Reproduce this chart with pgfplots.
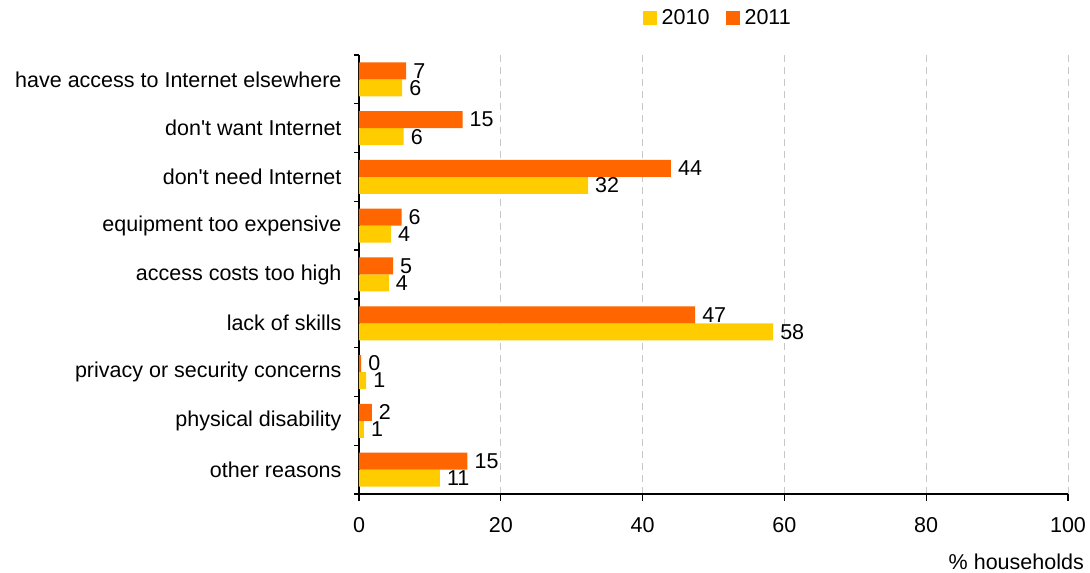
\documentclass[border=0pt]{standalone}
\usepackage{pgfplots}
\pgfplotsset{compat=1.18}
\usepackage{fontspec}
\setmainfont{Liberation Sans}
\definecolor{cyellow}{HTML}{FFCC00}
\definecolor{corange}{HTML}{FF6600}
\begin{document}
\begin{tikzpicture}[font=\fontsize{21.5}{25}\selectfont]
\useasboundingbox (-359pt,-79pt) rectangle (731pt,494pt);
\begin{axis}[
  at={(0pt,0pt)}, anchor=south west,
  scale only axis,
  width=709pt, height=439pt,
  xbar, bar width=17pt,
  xmin=0, xmax=100,
  ymin=-0.5, ymax=8.5,
  axis lines*=left,
  axis line style={line width=1.3pt},
  xtick={0,20,...,100},
  ytick={0,...,8},
  yticklabels={other reasons,physical disability,privacy or security concerns,lack of skills,access costs too high,equipment too expensive,don\textquotesingle t need Internet,don\textquotesingle t want Internet,have access to Internet elsewhere},
  minor ytick={-0.5,0.5,...,8.5},
  major y tick style={draw=none},
  tick align=outside,
  major tick length=7pt,
  minor tick length=5pt,
  tick style={line width=1.3pt, black},
  xmajorgrids,
  major x grid style={dash pattern=on 7pt off 5pt, line width=0.9pt, black!22},
  /pgf/number format/assume math mode=true,
  tick label style={font=\fontsize{21.5}{25}\selectfont},
  yticklabel style={xshift=-7pt},
  xticklabel style={yshift=-13pt},
  xlabel={\% households},
  xlabel style={at={(axis description cs:1,0)}, anchor=base east, inner sep=0pt, xshift=16pt, yshift=-75pt},
  nodes near coords,
  point meta=explicit symbolic,
  nodes near coords style={font=\fontsize{21.5}{25}\selectfont, anchor=west, inner sep=0pt, xshift=7pt, black},
  legend columns=2,
  legend style={draw=none, fill=none, at={(rel axis cs:0.506,1.084)}, anchor=center,
    /tikz/every even column/.append style={column sep=14pt},
    nodes={inner sep=2pt, font=\fontsize{21.5}{25}\selectfont},
    /tikz/every odd column/.append style={column sep=3pt}},
  legend image code/.code={\fill[#1] (0pt,-7pt) rectangle (14pt,7pt);},
]
\addplot[fill=cyellow, draw=none, bar shift=-8.5pt] coordinates {
(6.1,8) [6] (6.3,7) [6] (32.3,6) [32] (4.5,5) [4] (4.2,4) [4] (58.4,3) [58] (1.0,2) [1] (0.7,1) [1] (11.4,0) [11]};
\addlegendentry{2010}
\addplot[fill=corange, draw=none, bar shift=8.5pt] coordinates {
(6.65,8) [7] (14.6,7) [15] (44.0,6) [44] (6.0,5) [6] (4.8,4) [5] (47.4,3) [47] (0.3,2) [0] (1.8,1) [2] (15.3,0) [15]};
\addlegendentry{2011}
\end{axis}
\end{tikzpicture}
\end{document}
